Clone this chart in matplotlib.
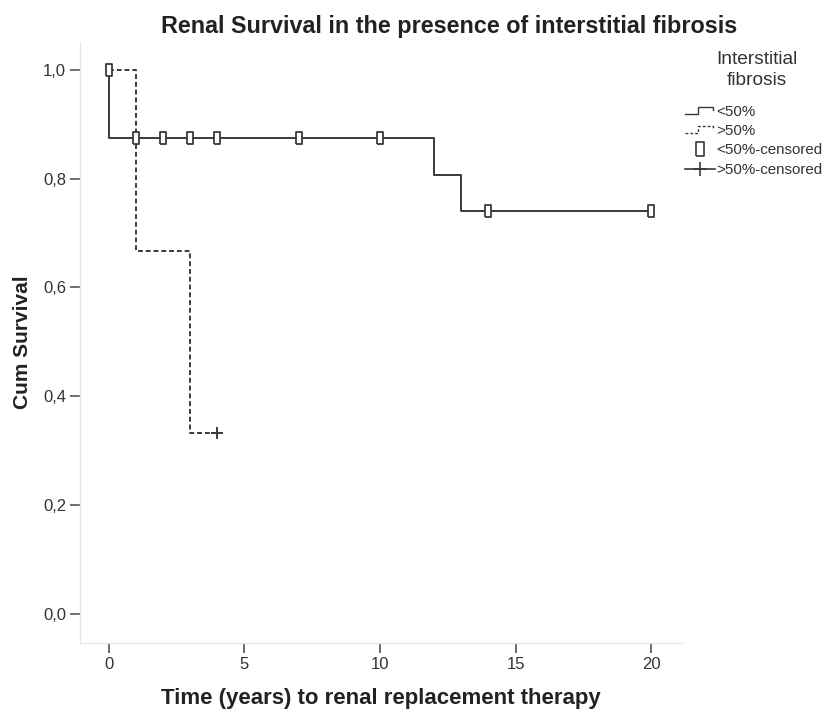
import matplotlib.pyplot as plt
from matplotlib.lines import Line2D
from matplotlib.legend_handler import HandlerBase
import numpy as np

plt.rcParams['font.family'] = ['Liberation Sans', 'DejaVu Sans']

# <50% group: step times and survival after each step
low_t = [0, 0, 12, 13, 20]
low_s = [1.0, 0.875, 0.807, 0.740, 0.740]
low_cens_t = [0, 1, 2, 3, 4, 7, 10, 14, 20]
low_cens_s = [1.0, 0.875, 0.875, 0.875, 0.875, 0.875, 0.875, 0.740, 0.740]

# >50% group
high_t = [0, 1, 3, 4]
high_s = [1.0, 0.667, 0.333, 0.333]
high_cens_t = [4]
high_cens_s = [0.333]

xticks = [0, 5, 10, 15, 20]
yticks = [0.0, 0.2, 0.4, 0.6, 0.8, 1.0]
ytick_labels = ['0,0', '0,2', '0,4', '0,6', '0,8', '1,0']

line_col = '#3a3a3a'
rect_marker = [(-0.28, -0.5), (0.28, -0.5), (0.28, 0.5), (-0.28, 0.5), (-0.28, -0.5)]


class StepHandler(HandlerBase):
    def __init__(self, ls):
        super().__init__()
        self.ls = ls

    def create_artists(self, legend, orig_handle, xd, yd, w, h, fontsize, trans):
        xs = [xd, xd + w * 0.45, xd + w * 0.45, xd + w * 0.95, xd + w * 0.95]
        ys = [yd + h * 0.15, yd + h * 0.15, yd + h * 0.85, yd + h * 0.85, yd + h * 0.5]
        ln = Line2D(xs, ys, color=line_col, lw=1.0, ls=self.ls, transform=trans)
        return [ln]


fig = plt.figure(figsize=(8.33, 7.12), dpi=100)
ax = fig.add_axes([0.096, 0.097, 0.7227, 0.844])

ax.step(low_t, low_s, where='post', color=line_col, lw=1.4)
ax.step(high_t, high_s, where='post', color=line_col, lw=1.4, ls=(0, (2.5, 1.5)))
ax.plot(low_cens_t, low_cens_s, ls='none', marker=rect_marker, ms=8, mfc='white',
        mec=line_col, mew=1.3)
ax.plot(high_cens_t, high_cens_s, ls='none', marker='+', ms=9, mec=line_col, mew=1.4)

ax.set_xlim(-1.07, 21.14)
ax.set_ylim(-0.053, 1.051)
ax.set_xticks(xticks)
ax.set_yticks(yticks)
ax.set_yticklabels(ytick_labels)
ax.tick_params(axis='both', direction='out', length=7, width=1.2, color='#555555',
               labelsize=12, labelcolor='#333333', pad=3)

for side in ['top', 'right']:
    ax.spines[side].set_visible(False)
for side in ['left', 'bottom']:
    ax.spines[side].set_color('#e6e6e6')
    ax.spines[side].set_linewidth(1.0)

ax.set_xlabel('Time (years) to renal replacement therapy', fontsize=16,
              fontweight='bold', color='#222222', labelpad=12)
ax.set_ylabel('Cum Survival', fontsize=15, fontweight='bold', color='#222222',
              labelpad=8)
fig.text(0.539, 0.963, 'Renal Survival in the presence of interstitial fibrosis',
         ha='center', va='center', fontsize=16.8, fontweight='bold', color='#222222')

# legend title drawn as its own text, centred over the entries
fig.text(757 / 833, 1 - 70 / 712, 'Interstitial\nfibrosis', ha='center', va='center',
         fontsize=13.8, color='#333333', linespacing=1.25)

h1 = Line2D([], [], color=line_col)
h2 = Line2D([], [], color=line_col, ls='--')
h3 = Line2D([], [], ls='none', marker=rect_marker, ms=10, mfc='white', mec=line_col, mew=1.2)
h4 = Line2D([], [], color=line_col, lw=1.2, marker='+', ms=10, mew=1.2)
leg = fig.legend([h1, h2, h3, h4], ['<50%', '>50%', '<50%-censored', '>50%-censored'],
                 loc='upper left', bbox_to_anchor=(677 / 833, 1 - 97 / 712),
                 frameon=False, fontsize=10.9, borderpad=0, handlelength=2.0,
                 handletextpad=0.1, labelspacing=0.36,
                 handler_map={h1: StepHandler('-'), h2: StepHandler((0, (2, 1.5)))})
for t in leg.get_texts():
    t.set_color('#333333')

fig.savefig('out.png', dpi=100)
